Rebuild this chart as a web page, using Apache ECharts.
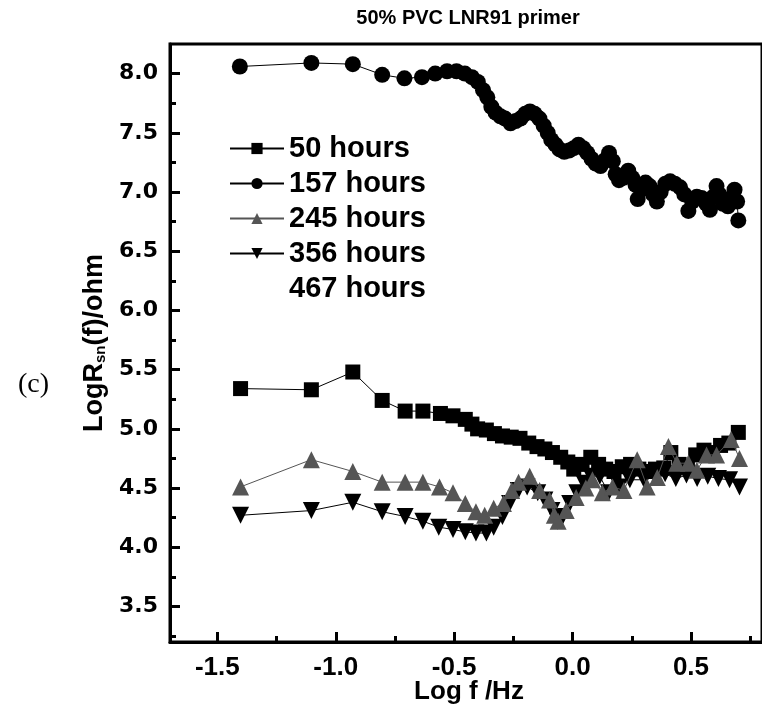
<!DOCTYPE html>
<html><head><meta charset="utf-8">
<script src="https://cdn.jsdelivr.net/npm/echarts@6/dist/echarts.min.js"></script>
<style>html,body{margin:0;padding:0;background:#fff}#c{width:762px;height:714px}</style>
</head><body><div id="c"></div>
<script>
const seriesNames = ['50 hours','157 hours','245 hours','356 hours','467 hours'];
const xTickLabels = [-1.5,-1.0,-0.5,0.0,0.5];
const xMinorTicks = [-1.25,-0.75,-0.25,0.25,0.75];
const yTickLabels = [3.5,4.0,4.5,5.0,5.5,6.0,6.5,7.0,7.5,8.0];
const yMinorTicks = [3.25,3.75,4.25,4.75,5.25,5.75,6.25,6.75,7.25,7.75];

const x50 = [-1.402,-1.103,-0.928,-0.804,-0.707,-0.632,-0.558,-0.505,-0.453,-0.425,-0.401,-0.364,-0.330,-0.296,-0.259,-0.222,-0.185,-0.150,-0.117,-0.085,-0.050,-0.020,0.005,0.040,0.077,0.110,0.140,0.175,0.210,0.245,0.280,0.315,0.350,0.385,0.415,0.450,0.485,0.520,0.555,0.590,0.625,0.660,0.700];
const y50 = [5.34,5.33,5.48,5.24,5.15,5.15,5.13,5.11,5.08,5.04,5.00,4.99,4.96,4.94,4.93,4.92,4.88,4.85,4.83,4.80,4.76,4.72,4.66,4.70,4.76,4.70,4.66,4.64,4.68,4.70,4.66,4.64,4.66,4.67,4.80,4.70,4.68,4.78,4.82,4.80,4.86,4.88,4.97];

const x157 = [-1.405,-1.103,-0.928,-0.804,-0.710,-0.636,-0.580,-0.530,-0.490,-0.455,-0.425,-0.400,-0.378,-0.360,-0.343,-0.325,-0.305,-0.285,-0.262,-0.240,-0.220,-0.200,-0.180,-0.160,-0.140,-0.122,-0.105,-0.090,-0.072,-0.055,-0.035,-0.015,0.005,0.025,0.045,0.062,0.080,0.098,0.118,0.137,0.154,0.170,0.182,0.196,0.215,0.235,0.252,0.266,0.275,0.290,0.308,0.325,0.340,0.356,0.372,0.392,0.412,0.432,0.454,0.472,0.489,0.505,0.525,0.545,0.565,0.580,0.595,0.608,0.620,0.635,0.656,0.672,0.684,0.695,0.700];
const y157 = [8.06,8.09,8.08,7.99,7.96,7.97,8.00,8.02,8.02,8.00,7.97,7.93,7.86,7.80,7.72,7.67,7.64,7.62,7.58,7.60,7.62,7.66,7.68,7.66,7.62,7.56,7.50,7.44,7.40,7.36,7.34,7.35,7.37,7.40,7.37,7.33,7.28,7.24,7.22,7.27,7.33,7.26,7.15,7.10,7.12,7.18,7.12,7.06,6.94,7.02,7.08,7.05,6.98,6.92,7.00,7.07,7.09,7.07,7.04,6.98,6.84,6.92,6.96,6.95,6.90,6.85,6.96,7.05,6.98,6.90,6.88,6.95,7.02,6.92,6.76];

const x245 = [-1.402,-1.103,-0.928,-0.804,-0.707,-0.632,-0.562,-0.505,-0.453,-0.408,-0.371,-0.333,-0.292,-0.257,-0.228,-0.181,-0.139,-0.097,-0.077,-0.061,-0.027,0.015,0.056,0.084,0.126,0.169,0.217,0.273,0.315,0.358,0.405,0.440,0.489,0.525,0.566,0.608,0.670,0.705];
const y245 = [4.51,4.74,4.64,4.55,4.55,4.55,4.51,4.46,4.37,4.30,4.27,4.33,4.37,4.48,4.55,4.60,4.48,4.40,4.27,4.22,4.31,4.42,4.50,4.57,4.46,4.51,4.48,4.74,4.51,4.59,4.85,4.71,4.71,4.65,4.78,4.78,4.91,4.75];

const x356 = [-1.402,-1.103,-0.928,-0.804,-0.707,-0.632,-0.565,-0.505,-0.453,-0.408,-0.364,-0.333,-0.296,-0.266,-0.229,-0.192,-0.147,-0.117,-0.087,-0.064,-0.042,-0.012,0.018,0.048,0.077,0.115,0.152,0.197,0.242,0.302,0.346,0.391,0.436,0.481,0.526,0.571,0.616,0.663,0.705];
const y356 = [4.27,4.31,4.38,4.30,4.26,4.22,4.17,4.15,4.13,4.12,4.12,4.17,4.26,4.37,4.48,4.51,4.46,4.40,4.31,4.22,4.26,4.37,4.46,4.54,4.60,4.60,4.46,4.51,4.57,4.57,4.61,4.62,4.58,4.61,4.58,4.60,4.58,4.57,4.51];

const x467 = [];
const y467 = [];

function zip(xs, ys){ return xs.map((x,i)=>[x, ys[i]]); }

const chart = echarts.init(document.getElementById('c'), null, {renderer:'canvas'});
const bold = 'Liberation Sans';
function mk(name, xs, ys, symbol, size, color, z){
  return {name, type:'line', xAxisIndex:0, yAxisIndex:0, data: zip(xs, ys), symbol, symbolSize:size,
    showSymbol:true, itemStyle:{color, opacity:1}, lineStyle:{color, width:1}, z, animation:false, clip:false};
}
chart.setOption({
  animation:false,
  backgroundColor:'#fff',
  grid:{left:170, top:44, right:-6, bottom:72, show:true, borderColor:'#000', borderWidth:3, containLabel:false},
  xAxis:[{type:'value', min:-1.7, max:0.8, position:'bottom',
    axisLine:{show:true, onZero:false, lineStyle:{color:'#000', width:3}},
    axisTick:{show:true, inside:true, length:10, lineStyle:{width:3,color:'#000'}, customValues:xTickLabels},
    axisLabel:{show:true, margin:13, customValues:xTickLabels, color:'#000', fontFamily:bold, fontWeight:'bold', fontSize:26,
      formatter:v=>v.toFixed(1)},
    splitLine:{show:false}},
   {type:'value', min:-1.7, max:0.8, position:'bottom', gridIndex:0,
    axisLine:{show:false, onZero:false},
    axisTick:{show:true, inside:true, length:6, lineStyle:{width:3,color:'#000'}, customValues:xMinorTicks},
    axisLabel:{show:false}, splitLine:{show:false}}],
  yAxis:[{type:'value', min:3.2, max:8.25, position:'left',
    axisLine:{show:true, onZero:false, lineStyle:{color:'#000', width:3}},
    axisTick:{show:true, inside:true, length:10, lineStyle:{width:3,color:'#000'}, customValues:yTickLabels},
    axisLabel:{show:true, margin:12, customValues:yTickLabels, color:'#000', fontFamily:'DejaVu Sans', fontWeight:'bold', fontSize:22,
      formatter:v=>v.toFixed(1)},
    splitLine:{show:false},
    name:'{a|LogR}{b|sn}{a|(f)/ohm}', nameLocation:'middle', nameGap:41, nameRotate:90,
    nameTextStyle:{rich:{a:{fontFamily:bold, fontWeight:'bold', fontSize:27, color:'#000'},
      b:{fontFamily:bold, fontWeight:'bold', fontSize:15, color:'#000', verticalAlign:'bottom', padding:[12,0,0,0]}}}},
   {type:'value', min:3.2, max:8.25, position:'left', gridIndex:0,
    axisLine:{show:false, onZero:false},
    axisTick:{show:true, inside:true, length:6, lineStyle:{width:3,color:'#000'}, customValues:yMinorTicks},
    axisLabel:{show:false}, splitLine:{show:false}}],
  legend:{orient:'vertical', left:224, top:129, itemWidth:54, itemHeight:14, itemGap:6,
    data:seriesNames, selectedMode:false,
    textStyle:{color:'#000', fontFamily:bold, fontWeight:'bold', fontSize:29}},
  graphic:[
    {type:'text', x:468, y:18, style:{text:'50% PVC LNR91 primer', fill:'#000', font:'bold 20px "Liberation Sans"', align:'center', verticalAlign:'middle'}},
    {type:'text', x:18, y:385, style:{text:'(c)', fill:'#000', font:'28px "Liberation Serif"', align:'left', verticalAlign:'middle'}},
    {type:'text', x:469, y:692, style:{text:'Log f /Hz', fill:'#000', font:'bold 26px "Liberation Sans"', align:'center', verticalAlign:'middle'}}
  ],
  series:[
    mk(seriesNames[0], x50, y50, 'rect', 15, '#000', 2),
    mk(seriesNames[1], x157, y157, 'circle', 16, '#000', 2),
    mk(seriesNames[3], x356, y356, 'path://M0,0 L10,0 L5,9 Z', 17, '#000', 3),
    mk(seriesNames[2], x245, y245, 'triangle', 17, '#555', 4),
    mk(seriesNames[4], x467, y467, 'none', 1, '#fff', 1)
  ]
});
</script></body></html>
